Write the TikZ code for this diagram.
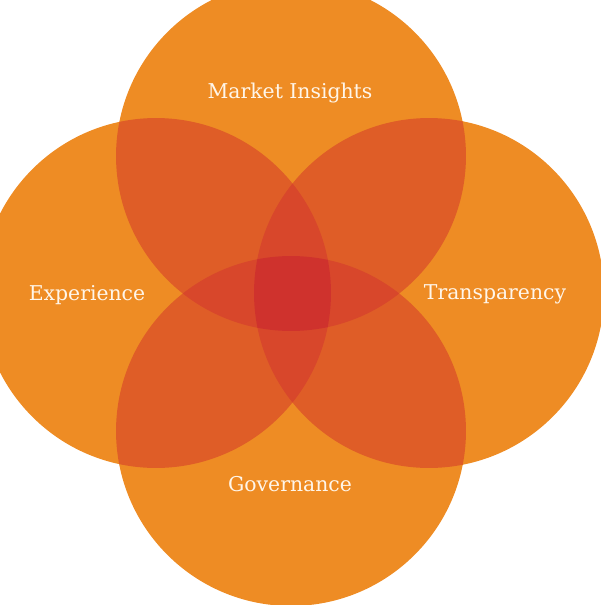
\documentclass[tikz,border=0pt]{standalone}
\usepackage{fontspec}
\setmainfont{DejaVu Serif}
\usepackage{tikz}

\definecolor{petal}{HTML}{EE8C24}
\definecolor{petaltwo}{HTML}{DF5D27}
\definecolor{petalthree}{HTML}{D8472B}
\definecolor{petalfour}{HTML}{CF322D}
\definecolor{labelink}{HTML}{FFF6EA}

\begin{document}
\begin{tikzpicture}
  [x=0.02cm, y=-0.02cm,
   area name/.style={text=labelink, font=\fontsize{11.6}{13}\selectfont}]
  \useasboundingbox (0,0) rectangle (601,605);
  \clip (0,0) rectangle (601,605);
  \coordinate (T) at (291,156);
  \coordinate (L) at (156,293);
  \coordinate (R) at (429,293);
  \coordinate (B) at (291,431);
  \def\rad{3.5cm}
  % single circles
  \foreach \c in {T,L,R,B}
    \fill[petal] (\c) circle [radius=\rad];
  % two at a time
  \foreach \a/\b in {T/L,T/R,B/L,B/R,T/B,L/R}{
    \begin{scope}
      \clip (\a) circle [radius=\rad];
      \fill[petaltwo] (\b) circle [radius=\rad];
    \end{scope}}
  % three at a time
  \foreach \a/\b/\c in {T/L/R,T/L/B,T/R/B,L/R/B}{
    \begin{scope}
      \clip (\a) circle [radius=\rad];
      \clip (\b) circle [radius=\rad];
      \fill[petalthree] (\c) circle [radius=\rad];
    \end{scope}}
  % all four
  \begin{scope}
    \clip (T) circle [radius=\rad];
    \clip (L) circle [radius=\rad];
    \clip (R) circle [radius=\rad];
    \fill[petalfour] (B) circle [radius=\rad];
  \end{scope}
  \node[area name] (market) at (290,93) {Market Insights};
  \node[area name] (experience) at (87,295) {Experience};
  \node[area name] (transparency) at (495,294) {Transparency};
  \node[area name] (governance) at (290,484) {Governance};
\end{tikzpicture}
\end{document}
